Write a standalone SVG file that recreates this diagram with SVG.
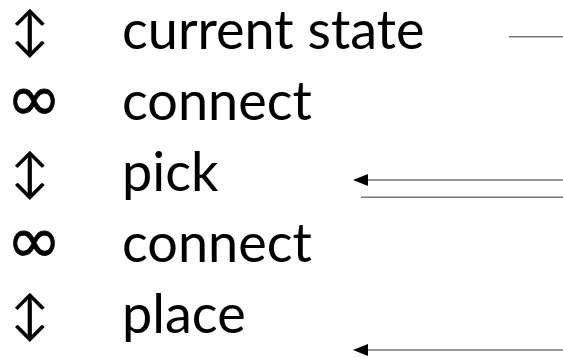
<svg xmlns="http://www.w3.org/2000/svg" width="563" height="358" viewBox="0 0 563 358">
<style>
text{font-family:Lato,"DejaVu Sans",sans-serif;font-size:54px;fill:#000}
.ud{text-anchor:middle;font-size:52px}
.inf{text-anchor:middle;font-family:"DejaVu Sans",sans-serif;font-size:66px;stroke:#000;stroke-width:0.8}
.c{stroke:#777;stroke-width:1.5;fill:none}
</style>
<rect width="563" height="358" fill="#fff"/>
<g id="n1"><text class="ud" x="30" y="49">↕</text><text x="122" y="49">current state</text></g>
<g id="n2"><text class="inf" x="34" y="121">∞</text><text x="122" y="120">connect</text></g>
<g id="n3"><text class="ud" x="30" y="191">↕</text><text x="122" y="191">pick</text></g>
<g id="n4"><text class="inf" x="34" y="263">∞</text><text x="122" y="262">connect</text></g>
<g id="n5"><text class="ud" x="30" y="333">↕</text><text x="122" y="333">place</text></g>
<g id="connectors">
<line class="c" x1="509" y1="36.7" x2="563" y2="36.7"/>
<line class="c" x1="563" y1="180" x2="366" y2="180"/>
<path d="M353,180 L368,174 L368,186 Z" fill="#000"/>
<line class="c" x1="361" y1="197.3" x2="563" y2="197.3"/>
<line class="c" x1="563" y1="350" x2="366" y2="350"/>
<path d="M353,350 L368,344 L368,356 Z" fill="#000"/>
</g>
</svg>
